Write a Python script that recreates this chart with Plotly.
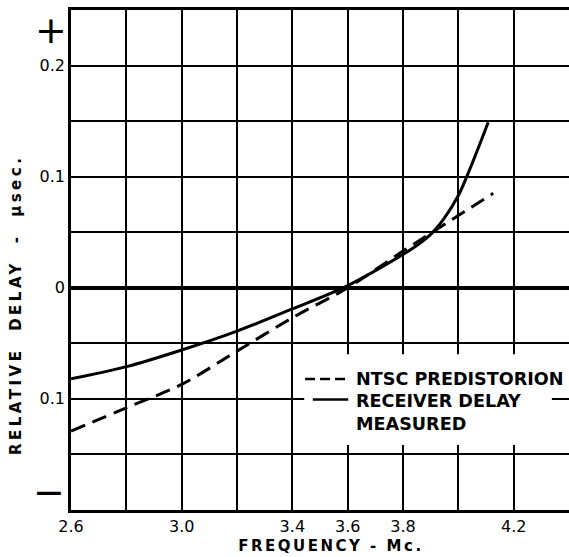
import plotly.graph_objects as go

# ---- data ----
freq_measured = [2.6, 2.8, 3.0, 3.2, 3.4, 3.6, 3.8, 3.85, 3.9, 3.95, 4.0, 4.05, 4.108]
delay_measured = [-0.082, -0.071, -0.056, -0.039, -0.019, 0.002, 0.030, 0.038, 0.048, 0.063, 0.083, 0.112, 0.149]

freq_ntsc = [2.6, 2.8, 3.0, 3.2, 3.4, 3.6, 3.8, 4.0, 4.126]
delay_ntsc = [-0.129, -0.108, -0.087, -0.057, -0.027, 0.0, 0.033, 0.065, 0.085]

x_tickvals = [2.6, 2.8, 3.0, 3.2, 3.4, 3.6, 3.8, 4.0, 4.2]
x_ticktext = ["2.6", "", "3.0", "", "3.4", "3.6", "3.8", "", "4.2"]
y_tickvals = [-0.2, -0.15, -0.1, -0.05, 0.0, 0.05, 0.1, 0.15, 0.2, 0.25]
y_ticktext = ["", "", "0.1", "", "0", "", "0.1", "", "0.2", ""]

legend_ntsc = "NTSC PREDISTORION"
legend_measured = "RECEIVER DELAY<br>MEASURED"
x_title = "FREQUENCY - Mc."
y_title = "RELATIVE DELAY - µsec."

FONT = "DejaVu Sans"

fig = go.Figure()
fig.add_trace(go.Scatter(x=freq_measured, y=delay_measured, mode="lines",
                         line=dict(color="black", width=3, shape="spline", smoothing=1.0),
                         showlegend=False, hoverinfo="skip"))
fig.add_trace(go.Scatter(x=freq_ntsc, y=delay_ntsc, mode="lines",
                         line=dict(color="black", width=3, dash="15px,8px", shape="spline", smoothing=0.8),
                         showlegend=False, hoverinfo="skip"))

# white legend area interrupting the grid
fig.add_shape(type="rect", xref="x", yref="y", x0=3.443, x1=4.338, y0=-0.1416, y1=-0.0598,
              fillcolor="white", line=dict(width=0), layer="above")
# legend keys
fig.add_shape(type="line", xref="x", yref="y", x0=3.446, x1=3.591, y0=-0.0821, y1=-0.0821,
              line=dict(color="black", width=2.5, dash="10px,5px"), layer="above")
fig.add_shape(type="line", xref="x", yref="y", x0=3.474, x1=3.602, y0=-0.1005, y1=-0.1005,
              line=dict(color="black", width=2.5), layer="above")

fig.add_annotation(x=3.622, y=-0.0821, xref="x", yref="y", text=legend_ntsc, showarrow=False,
                   xanchor="left", yanchor="middle",
                   font=dict(family=FONT, size=17.6, color="black", weight="bold"))
fig.add_annotation(x=3.622, y=-0.1126, xref="x", yref="y", text=legend_measured, showarrow=False,
                   xanchor="left", yanchor="middle", align="left",
                   font=dict(family=FONT, size=17.6, color="black", weight="bold"))

# + / - markers on the y axis
fig.add_annotation(x=-0.04, y=0.232, xref="paper", yref="y", text="+", showarrow=False,
                   xanchor="center", yanchor="middle", font=dict(family=FONT, size=38, color="black"))
fig.add_annotation(x=-0.044, y=-0.184, xref="paper", yref="y", text="−", showarrow=False,
                   xanchor="center", yanchor="middle", font=dict(family=FONT, size=38, color="black"))

# axis titles
fig.add_annotation(x=0.522, y=-0.072, xref="paper", yref="paper", text=x_title, showarrow=False,
                   xanchor="center", yanchor="middle",
                   font=dict(family=FONT, size=15, color="black", weight="bold"))
fig.add_annotation(x=-0.1114, y=0.41, xref="paper", yref="paper", text=y_title, showarrow=False,
                   textangle=-90, xanchor="center", yanchor="middle",
                   font=dict(family=FONT, size=15, color="black", weight="bold"))

fig.update_xaxes(range=[2.6, 4.4], tickmode="array", tickvals=x_tickvals, ticktext=x_ticktext,
                 showgrid=True, gridcolor="black", gridwidth=2.2, zeroline=False,
                 showline=True, linecolor="black", linewidth=2.5, mirror=True,
                 ticks="", ticklabelstandoff=0,
                 tickfont=dict(family=FONT, size=16, color="black"))
fig.update_yaxes(range=[-0.2, 0.25], tickmode="array", tickvals=y_tickvals, ticktext=y_ticktext,
                 showgrid=True, gridcolor="black", gridwidth=2.2,
                 zeroline=True, zerolinecolor="black", zerolinewidth=3.5,
                 showline=True, linecolor="black", linewidth=2.5, mirror=False,
                 ticks="", ticklabelstandoff=0,
                 tickfont=dict(family=FONT, size=16, color="black"))

fig.update_layout(width=569, height=557, margin=dict(l=71, r=0, t=10, b=47),
                  plot_bgcolor="white", paper_bgcolor="white", showlegend=False)

post = """
document.body.style.margin = '0';
document.body.style.overflow = 'hidden';
var gd = document.getElementById('{plot_id}');
gd.querySelectorAll('text.annotation-text').forEach(function(t){
  var s = t.textContent;
  if (s.indexOf('RELATIVE') === 0) { t.style.letterSpacing = '3.5px'; t.style.wordSpacing = '8px'; }
  else if (s.indexOf('FREQUENCY') === 0) { t.style.letterSpacing = '2.5px'; }
});
"""
fig.write_html("out.html", post_script=post, config={"displayModeBar": False})
